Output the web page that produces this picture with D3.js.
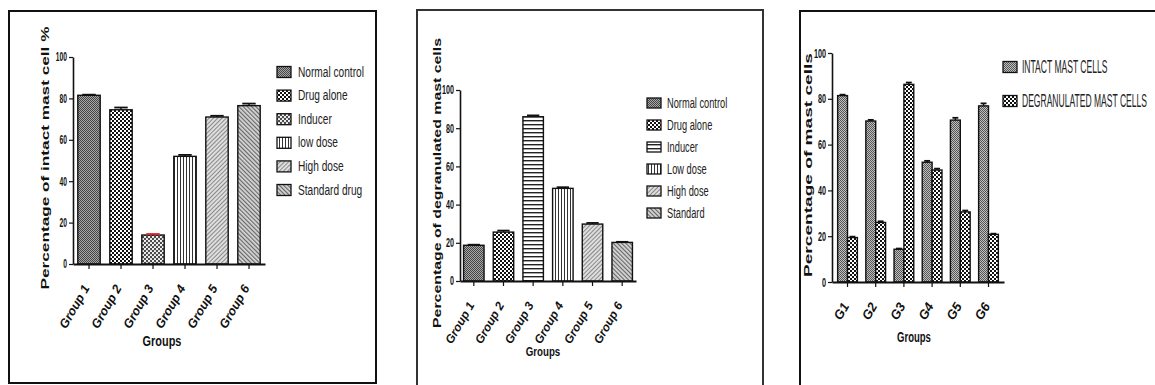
<!DOCTYPE html>
<html>
<head>
<meta charset="utf-8">
<script src="https://cdn.jsdelivr.net/npm/d3@7"></script>
<style>
  html, body { margin: 0; padding: 0; background: #fff; }
  svg { display: block; font-family: "Liberation Sans", Arial, sans-serif; }
</style>
</head>
<body>
<svg id="fig" width="1155" height="385"></svg>
<script>
// ---- data -------------------------------------------------------------
const groupNames = ["Group 1", "Group 2", "Group 3", "Group 4", "Group 5", "Group 6"];
const groupShort = ["G1", "G2", "G3", "G4", "G5", "G6"];
const yTickValues = [0, 20, 40, 60, 80, 100];

// Intact mast cells (%)
const intactLegend = ["Normal control", "Drug alone", "Inducer", "low dose", "High dose", "Standard drug"];
const intactPct = [81.5, 74.5, 14.0, 52.0, 71.0, 76.5];
const intactSem = [0.3, 1.1, 0.5, 0.7, 0.6, 1.0];

// Degranulated mast cells (%)
const degranLegend = ["Normal control", "Drug alone", "Inducer", "Low dose", "High dose", "Standard"];
const degranPct = [18.7, 25.6, 86.0, 48.5, 29.8, 20.2];
const degranSem = [0.3, 0.8, 0.7, 0.6, 0.6, 0.3];

// Both populations side by side
const seriesNames = ["INTACT MAST CELLS", "DEGRANULATED MAST CELLS"];
const intactByGroup = [81.4, 70.3, 14.3, 52.3, 70.7, 76.9];
const degranByGroup = [19.4, 26.0, 86.3, 48.9, 30.6, 20.8];
const intactByGroupSem = [0.4, 0.5, 0.3, 0.6, 1.0, 1.1];
const degranByGroupSem = [0.4, 0.5, 0.8, 0.6, 0.6, 0.3];

// ---- fill patterns -----------------------------------------------------
const svg = d3.select("#fig");
const defs = svg.append("defs");
const INK = "#111";

function pattern(id, w, h, bg, draw, rot) {
  const p = defs.append("pattern").attr("id", id)
    .attr("patternUnits", "userSpaceOnUse").attr("width", w).attr("height", h);
  if (rot) p.attr("patternTransform", `rotate(${rot})`);
  if (bg) p.append("rect").attr("width", w).attr("height", h).attr("fill", bg);
  draw(p);
}
pattern("pFine", 2, 2, "#a8a8a8", p => {
  p.append("rect").attr("width", 1).attr("height", 1).attr("fill", "#444");
  p.append("rect").attr("x", 1).attr("y", 1).attr("width", 1).attr("height", 1).attr("fill", "#444");
});
pattern("pFineLight", 2, 2, "#c0c0c0", p => {
  p.append("rect").attr("width", 1).attr("height", 1).attr("fill", "#555");
  p.append("rect").attr("x", 1).attr("y", 1).attr("width", 1).attr("height", 1).attr("fill", "#555");
});
pattern("pCheck", 4, 4, "#fff", p => {
  p.append("rect").attr("width", 2).attr("height", 2).attr("fill", "#111");
  p.append("rect").attr("x", 2).attr("y", 2).attr("width", 2).attr("height", 2).attr("fill", "#111");
});
pattern("pDots", 4, 4, "#4a4a4a", p => {
  p.append("circle").attr("cx", 1).attr("cy", 1).attr("r", 1.1).attr("fill", "#fff");
  p.append("circle").attr("cx", 3).attr("cy", 3).attr("r", 1.1).attr("fill", "#fff");
});
pattern("pVert", 3, 3, "#fff", p => {
  p.append("rect").attr("width", 1).attr("height", 3).attr("fill", "#333");
});
pattern("pHoriz", 4, 4, "#fff", p => {
  p.append("rect").attr("width", 4).attr("height", 1.4).attr("fill", "#222");
});
pattern("pDiagA", 3, 3, "#dedede", p => {
  p.append("rect").attr("width", 1).attr("height", 3).attr("fill", "#8a8a8a");
}, 45);
pattern("pDiagB", 3, 3, "#d4d4d4", p => {
  p.append("rect").attr("width", 1.1).attr("height", 3).attr("fill", "#666");
}, -45);

const intactFills = ["pFine", "pCheck", "pDots", "pVert", "pDiagA", "pDiagB"];
const degranFills = ["pFine", "pCheck", "pHoriz", "pVert", "pDiagA", "pDiagB"];
const pairFills = ["pFineLight", "pCheck"];

// ---- helpers -----------------------------------------------------------
// condense text horizontally about its anchor point
function squeeze(sel, k) {
  sel.each(function () {
    const el = d3.select(this);
    const x = +el.attr("x") || 0;
    const y = +el.attr("y") || 0;
    el.attr("transform", `translate(${x} ${y}) scale(${k} 1) translate(${-x} ${-y})`);
  });
}

function drawPanel(cfg) {
  const g = svg.append("g");

  // frame
  g.append("rect")
    .attr("x", cfg.frame[0]).attr("y", cfg.frame[1])
    .attr("width", cfg.frame[2] - cfg.frame[0]).attr("height", cfg.frame[3] - cfg.frame[1])
    .attr("fill", "none").attr("stroke", cfg.frameColor || INK).attr("stroke-width", 2);

  const y = d3.scaleLinear().domain([0, 100]).range([cfg.y0, cfg.y100]);
  const x = d3.scaleBand().domain(cfg.categories).range(cfg.xRange)
    .paddingInner(cfg.padInner).paddingOuter(cfg.padOuter);
  const nSeries = cfg.series.length;
  const xs = d3.scaleBand().domain(d3.range(nSeries)).range([0, x.bandwidth()]);

  // bars
  cfg.series.forEach((s, si) => {
    const rows = cfg.categories.map((c, ci) => ({ c, ci, v: s.values[ci], e: s.errs[ci] }));
    const bx = d => x(d.c) + xs(si);
    g.selectAll(null).data(rows).join("rect")
      .attr("x", bx).attr("y", d => y(d.v))
      .attr("width", xs.bandwidth()).attr("height", d => y(0) - y(d.v))
      .attr("fill", d => `url(#${s.fill(d.ci)})`)
      .attr("stroke", INK).attr("stroke-width", 1.4);
    // error bars (upper half)
    g.selectAll(null).data(rows).join("line")
      .attr("x1", d => bx(d) + xs.bandwidth() / 2).attr("x2", d => bx(d) + xs.bandwidth() / 2)
      .attr("y1", d => y(d.v)).attr("y2", d => y(d.v + d.e))
      .attr("stroke", INK).attr("stroke-width", 1.4);
    g.selectAll(null).data(rows).join("line")
      .attr("x1", d => bx(d) + xs.bandwidth() * 0.2).attr("x2", d => bx(d) + xs.bandwidth() * 0.8)
      .attr("y1", d => y(d.v + d.e)).attr("y2", d => y(d.v + d.e))
      .attr("stroke", d => (s.capColor && s.capColor[d.ci]) || INK).attr("stroke-width", 1.8);
  });

  // y axis
  const ya = g.append("g").attr("transform", `translate(${cfg.xRange[0]},0)`)
    .call(d3.axisLeft(y).tickValues(yTickValues).tickSize(4).tickSizeOuter(0).tickPadding(2));
  ya.select(".domain").attr("stroke", INK).attr("stroke-width", 1.6);
  ya.selectAll(".tick line").attr("stroke", INK).attr("stroke-width", 1.2);
  ya.selectAll(".tick text").attr("font-family", "Liberation Sans, Arial, sans-serif")
    .attr("font-size", cfg.tickFont).attr("font-weight", "bold").attr("fill", INK)
    .call(squeeze, cfg.tickSqueeze);

  // x axis
  const xa = g.append("g").attr("transform", `translate(0,${cfg.y0})`)
    .call(d3.axisBottom(x).tickSize(5).tickSizeOuter(0).tickFormat(""));
  xa.select(".domain").attr("stroke", INK).attr("stroke-width", 2);
  xa.selectAll(".tick line").attr("stroke", INK).attr("stroke-width", 1.2);

  g.selectAll(null).data(cfg.tickLabels).join("text")
    .attr("transform", (d, i) => `translate(${x(cfg.categories[i]) + x.bandwidth() / 2 + cfg.labelDx},${cfg.y0 + cfg.labelDy}) rotate(-60)`)
    .attr("text-anchor", "end")
    .attr("font-size", cfg.xLabelFont).attr("font-weight", "bold").attr("font-style", "italic")
    .attr("fill", INK)
    .text(d => d);

  // axis titles
  g.append("text")
    .attr("x", (cfg.xRange[0] + cfg.xRange[1]) / 2 + cfg.groupsDx).attr("y", cfg.groupsY)
    .attr("text-anchor", "middle").attr("font-size", cfg.groupsFont).attr("font-weight", "bold")
    .attr("fill", INK).text("Groups").call(squeeze, cfg.groupsSqueeze);

  g.append("text")
    .attr("transform", `translate(${cfg.yTitleX},${cfg.yTitleY}) rotate(-90)`)
    .attr("text-anchor", "middle").attr("dominant-baseline", "central")
    .attr("font-size", cfg.yTitleFont).attr("font-weight", "bold").attr("fill", INK)
    .attr("textLength", cfg.yTitleLen).attr("lengthAdjust", "spacingAndGlyphs")
    .text(cfg.yTitle);

  // legend
  const lg = g.append("g");
  cfg.legend.forEach((item, i) => {
    const cy = cfg.legendY + i * cfg.legendStep;
    lg.append("rect")
      .attr("x", cfg.legendX).attr("y", cy - cfg.swatchH / 2)
      .attr("width", cfg.swatchW).attr("height", cfg.swatchH)
      .attr("fill", `url(#${item.fill})`).attr("stroke", INK).attr("stroke-width", 1.3);
    lg.append("text")
      .attr("x", cfg.legendX + cfg.swatchW + cfg.legendGap).attr("y", cy)
      .attr("dominant-baseline", "central")
      .attr("font-size", cfg.legendFont).attr("fill", "#222")
      .text(item.label).call(squeeze, cfg.legendSqueeze);
  });
}

// ---- panel 1: intact mast cells ---------------------------------------
drawPanel({
  frame: [9, 11, 376, 383],
  categories: groupNames, tickLabels: groupNames,
  series: [{ values: intactPct, errs: intactSem, fill: i => intactFills[i],
             capColor: [null, null, "#e8202a", null, null, null] }],
  y0: 264, y100: 57, xRange: [73, 265], padInner: 0.3, padOuter: 0.15,
  tickFont: 12, tickSqueeze: 0.56,
  xLabelFont: 12.5, labelDx: 1, labelDy: 24,
  groupsFont: 14, groupsSqueeze: 0.78, groupsDx: -7, groupsY: 346,
  yTitle: "Percentage of intact mast cell %", yTitleX: 45, yTitleY: 158, yTitleFont: 11.5, yTitleLen: 263,
  legend: intactLegend.map((l, i) => ({ label: l, fill: intactFills[i] })),
  legendX: 277, legendY: 72, legendStep: 23.6, swatchW: 14, swatchH: 11, legendGap: 7,
  legendFont: 14.5, legendSqueeze: 0.7
});

// ---- panel 2: degranulated mast cells ---------------------------------
drawPanel({
  frame: [417, 10, 763, 400], frameColor: "#333",
  categories: groupNames, tickLabels: groupNames,
  series: [{ values: degranPct, errs: degranSem, fill: i => degranFills[i] }],
  y0: 281, y100: 90, xRange: [460, 636], padInner: 0.31, padOuter: 0.12,
  tickFont: 12, tickSqueeze: 0.6,
  xLabelFont: 12, labelDx: 1, labelDy: 24,
  groupsFont: 13.5, groupsSqueeze: 0.72, groupsDx: -5, groupsY: 356,
  yTitle: "Percentage of degranulated mast cells", yTitleX: 437, yTitleY: 183, yTitleFont: 11.5, yTitleLen: 290,
  legend: degranLegend.map((l, i) => ({ label: l, fill: degranFills[i] })),
  legendX: 647, legendY: 103, legendStep: 22, swatchW: 14, swatchH: 10, legendGap: 6,
  legendFont: 14.5, legendSqueeze: 0.64
});

// ---- panel 3: both populations per group ------------------------------
drawPanel({
  frame: [800, 11, 1170, 400],
  categories: groupShort, tickLabels: groupShort,
  series: [
    { values: intactByGroup, errs: intactByGroupSem, fill: () => pairFills[0] },
    { values: degranByGroup, errs: degranByGroupSem, fill: () => pairFills[1] }
  ],
  y0: 282, y100: 53, xRange: [832, 1004], padInner: 0.3, padOuter: 0.2,
  tickFont: 12.5, tickSqueeze: 0.58,
  xLabelFont: 13, labelDx: 2, labelDy: 24,
  groupsFont: 14, groupsSqueeze: 0.68, groupsDx: -4, groupsY: 342,
  yTitle: "Percentage of mast cells", yTitleX: 808, yTitleY: 165, yTitleFont: 11, yTitleLen: 224,
  legend: seriesNames.map((l, i) => ({ label: l, fill: pairFills[i] })),
  legendX: 1003, legendY: 67, legendStep: 34, swatchW: 14, swatchH: 11, legendGap: 5,
  legendFont: 19, legendSqueeze: 0.45
});
</script>
</body>
</html>
